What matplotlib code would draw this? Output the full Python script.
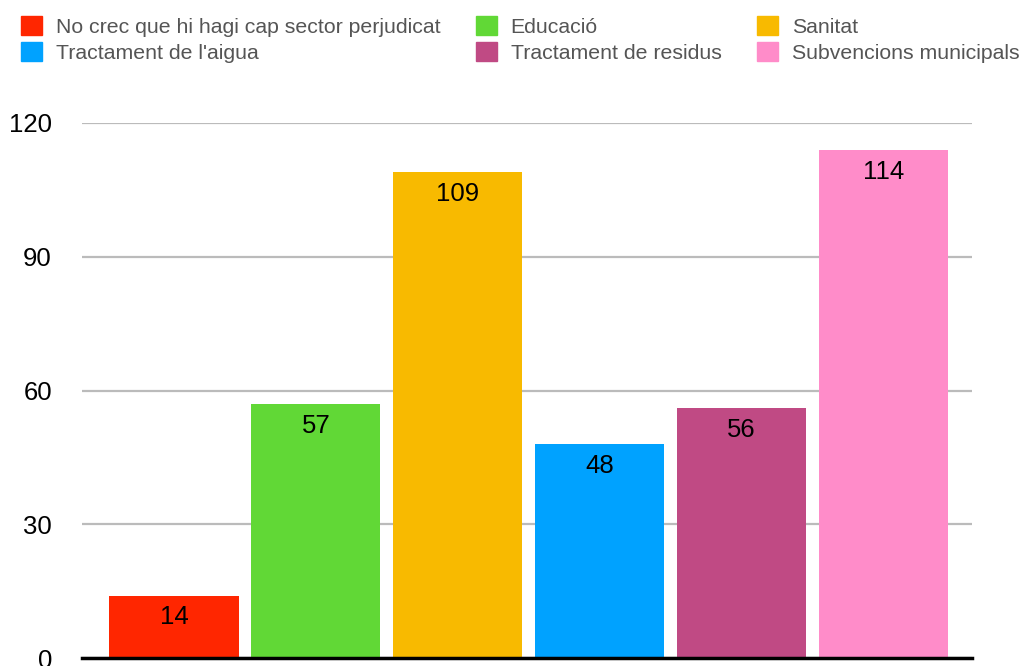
import matplotlib.pyplot as plt
from matplotlib.patches import Patch

plt.rcParams['font.family'] = ['Liberation Sans', 'DejaVu Sans']

categories = ['No crec que hi hagi cap sector perjudicat', 'Educació', 'Sanitat',
              "Tractament de l'aigua", 'Tractament de residus', 'Subvencions municipals']
values = [14, 57, 109, 48, 56, 114]
colors = ['#FF2600', '#61D836', '#F8BA00', '#00A2FF', '#C04A84', '#FF8CC9']
yticks = [0, 30, 60, 90, 120]

fig = plt.figure(figsize=(10.35, 6.66), dpi=100)
ax = fig.add_axes([82/1035, 8/666, 890/1035, 535/666])

x = range(len(values))
bars = ax.bar(x, values, width=0.91, color=colors, zorder=3)
for b, v in zip(bars, values):
    ax.text(b.get_x() + b.get_width()/2, v - 4.9, str(v), ha='center', va='center',
            fontsize=18.5, color='black', zorder=4)

ax.set_xlim(-0.648, 5.624)
ax.set_ylim(0, 120)
ax.set_yticks(yticks)
ax.tick_params(axis='y', length=0, pad=21.6, labelsize=18.5)
ax.set_xticks([])
ax.grid(axis='y', color='#BBBBBB', linewidth=1.6, zorder=0)
for s in ['top', 'right', 'left']:
    ax.spines[s].set_visible(False)
ax.spines['bottom'].set_linewidth(2.5)
ax.spines['bottom'].set_color('black')
ax.spines['bottom'].set_zorder(5)

# legend, row-major order -> reorder for column-major fill
order = [0, 3, 1, 4, 2, 5]
handles = [Patch(color=colors[i]) for i in order]
labels = [categories[i] for i in order]
leg = fig.legend(handles, labels, ncol=3, loc='upper left', bbox_to_anchor=(0.012, 0.989),
                 frameon=False, fontsize=15.3, handlelength=1.0, handleheight=1.0,
                 handletextpad=0.65, columnspacing=1.65, labelspacing=0.27,
                 borderaxespad=0)
for t in leg.get_texts():
    t.set_color('#555555')

fig.savefig('out.png', dpi=100)
